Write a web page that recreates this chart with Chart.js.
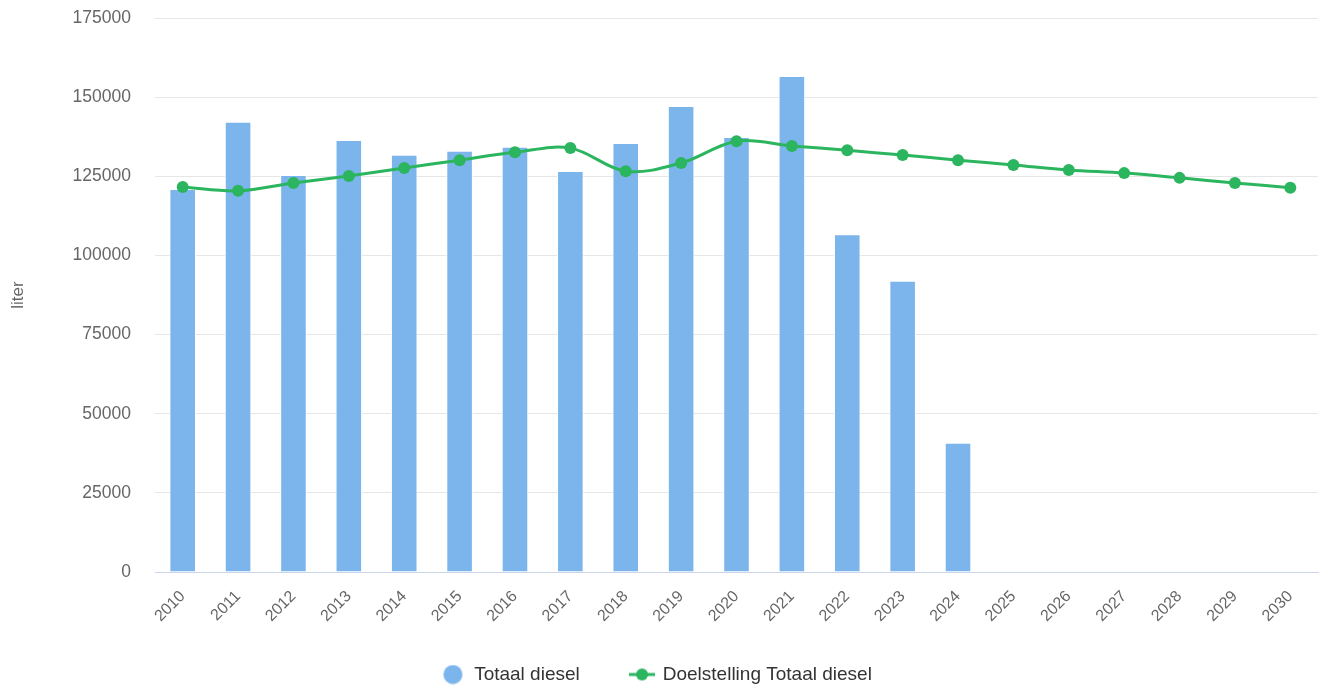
<!DOCTYPE html>
<html>
<head>
<meta charset="utf-8">
<script src="https://cdn.jsdelivr.net/npm/chart.js@4/dist/chart.umd.min.js"></script>
<style>
  html, body { margin: 0; padding: 0; background: #fff; }
  #wrap { width: 1324px; height: 688px; }
</style>
</head>
<body>
<div id="wrap"><canvas id="diesel-chart" width="1324" height="688"></canvas></div>
<script>
var jaren = ["2010","2011","2012","2013","2014","2015","2016","2017","2018","2019","2020",
             "2021","2022","2023","2024","2025","2026","2027","2028","2029","2030"];

// werkelijk verbruik (liter), nog geen cijfers vanaf 2025
var totaalDiesel = [121000, 142200, 125400, 136500, 131800, 133100, 134300, 126700, 135500, 147200, 137400,
                    156700, 106700, 92000, 40800, null, null, null, null, null, null];

var doelstelling = [121600, 120400, 122900, 125100, 127600, 130100, 132600, 133900, 126600, 129200, 136100,
                    134600, 133200, 131700, 130100, 128600, 127000, 126000, 124500, 122900, 121400];

var yTicks = [0, 25000, 50000, 75000, 100000, 125000, 150000, 175000];

var blauw = "#7cb5ec";
var groen = "#2bb55f";
var lettertype = "'Liberation Sans', Arial, Helvetica, sans-serif";

// legend-symbolen, iets naar links geschoven binnen hun vak
function maakIcoon(tekenLijn) {
    var c = document.createElement("canvas");
    c.width = 34;
    c.height = 20;
    var g = c.getContext("2d");
    if (tekenLijn) {
        g.strokeStyle = groen;
        g.lineWidth = 3;
        g.beginPath();
        g.moveTo(0, 10);
        g.lineTo(26, 10);
        g.stroke();
        g.fillStyle = groen;
        g.beginPath();
        g.arc(13, 10, 6, 0, Math.PI * 2);
        g.fill();
    } else {
        g.fillStyle = blauw;
        g.beginPath();
        g.arc(12.5, 10, 9.5, 0, Math.PI * 2);
        g.fill();
    }
    return c;
}
var balkIcoon = maakIcoon(false);
var lijnIcoon = maakIcoon(true);

// geen extra ruimte rond een as reserveren
function geenPadding() {
    return { left: 0, top: 0, right: 0, bottom: 0 };
}

var ctx = document.getElementById("diesel-chart").getContext("2d");
var grafiek = new Chart(ctx, {
    type: "bar",
    data: {
        labels: jaren,
        datasets: [
            {
                type: "bar",
                label: "Totaal diesel",
                data: totaalDiesel,
                backgroundColor: blauw,
                borderColor: "#ffffff",
                borderWidth: 1,
                borderSkipped: "bottom",
                barPercentage: 0.48,
                categoryPercentage: 1,
                order: 1
            },
            {
                type: "line",
                label: "Doelstelling Totaal diesel",
                data: doelstelling,
                borderColor: groen,
                backgroundColor: groen,
                borderWidth: 3,
                pointRadius: 6,
                pointHoverRadius: 6,
                pointBorderWidth: 0,
                tension: 0.35,
                fill: false,
                order: 0
            }
        ]
    },
    options: {
        responsive: false,
        animation: false,
        layout: { padding: { top: 18, right: 2, left: 0, bottom: -6 } },
        plugins: {
            tooltip: { enabled: false },
            legend: {
                position: "bottom",
                labels: {
                    usePointStyle: true,
                    boxWidth: 14.5,
                    boxHeight: 13.5,
                    padding: 59,
                    color: "#333333",
                    font: { family: lettertype, size: 19 },
                    sort: function (a, b) { return a.datasetIndex - b.datasetIndex; },
                    generateLabels: function (chart) {
                        var items = Chart.defaults.plugins.legend.labels.generateLabels(chart);
                        items.forEach(function (item) {
                            item.pointStyle = item.datasetIndex === 0 ? balkIcoon : lijnIcoon;
                        });
                        return items;
                    }
                }
            }
        },
        scales: {
            x: {
                grid: { display: false, drawTicks: false },
                border: { display: true, color: "#ccd6eb", width: 1 },
                ticks: {
                    color: "#666666",
                    font: { family: lettertype, size: 16 },
                    minRotation: 45,
                    maxRotation: 45,
                    padding: 15,
                    autoSkip: false
                },
                afterFit: function (scale) {
                    scale.height = 34;
                    scale.paddingLeft = 0;
                    scale.paddingRight = 0;
                    scale.getPadding = geenPadding;
                    // jaartallen mogen onder de as-box doorlopen
                    scale._computeLabelArea = function () { return undefined; };
                }
            },
            y: {
                min: 0,
                max: 175000,
                afterBuildTicks: function (scale) {
                    scale.ticks = yTicks.map(function (v) { return { value: v }; });
                },
                grid: { color: "#e6e6e6", lineWidth: 1, drawTicks: false },
                border: { display: false },
                ticks: {
                    color: "#666666",
                    font: { family: lettertype, size: 17.5 },
                    padding: 24,
                    callback: function (v) { return String(v); }
                },
                title: {
                    display: true,
                    text: "liter",
                    color: "#666666",
                    font: { family: lettertype, size: 17 },
                    padding: { top: 8, bottom: 0 }
                },
                afterFit: function (scale) {
                    scale.width = 155;
                    scale.paddingTop = 0;
                    scale.paddingBottom = 0;
                    scale.getPadding = geenPadding;
                }
            }
        }
    }
});
</script>
</body>
</html>
